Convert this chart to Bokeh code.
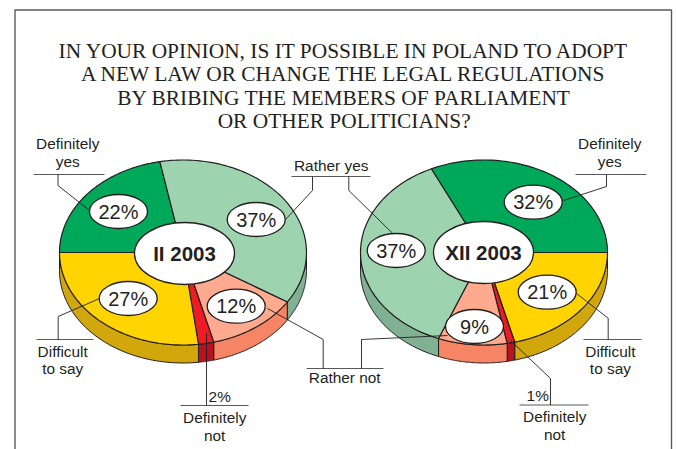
import numpy as np
from bokeh.plotting import figure
from bokeh.models import Range1d
from bokeh.embed import file_html
from bokeh.resources import INLINE
from bokeh.core.properties import value

title_lines = ["IN YOUR OPINION, IS IT POSSIBLE IN POLAND TO ADOPT",
               "A NEW LAW OR CHANGE THE LEGAL REGULATIONS",
               "BY BRIBING THE MEMBERS OF PARLIAMENT",
               "OR OTHER POLITICIANS?"]
categories_2 = ["Definitely yes", "Rather yes", "Rather not", "Definitely not", "Difficult to say"]
feb_2003 = [22, 37, 12, 2, 27]
categories_12 = ["Difficult to say", "Definitely not", "Rather not", "Rather yes", "Definitely yes"]
dec_2003 = [21, 1, 9, 37, 32]
top_colors = {"Definitely yes": "#00a85a", "Rather yes": "#9dd3ae", "Rather not": "#fdaa8f",
              "Definitely not": "#ed1c24", "Difficult to say": "#ffd400"}
side_colors = {"Definitely yes": "#008c4a", "Rather yes": "#80b193", "Rather not": "#f58565",
               "Definitely not": "#b8121f", "Difficult to say": "#d1a70b"}

W, H = 676, 449
INK = "#231f20"
GREY = "#58595b"
p = figure(width=W, height=H, output_backend="svg", toolbar_location=None,
           x_range=Range1d(0, W), y_range=Range1d(H, 0),
           min_border=0, x_axis_type="linear")
p.axis.visible = False
p.grid.visible = False
p.outline_line_color = None
p.background_fill_color = "white"

RX, RY, DEPTH = 123.5, 92.5, 18


def pie(cx, cy, cats, vals, start):
    a = start
    slices = []
    for c, v in zip(cats, vals):
        b = a - v * 3.6
        slices.append((c, a, b))
        a = b
    # side walls (only the front half is visible)
    for c, a0, b0 in slices:
        for k in (0, -360, 360):
            hi_a = min(a0 + k, 0)
            lo_b = max(b0 + k, -180)
            if hi_a > lo_b:
                t = np.radians(np.linspace(hi_a, lo_b, 60))
                xs = cx + RX * np.cos(t)
                ys = cy - RY * np.sin(t)
                p.patch(np.r_[xs, xs[::-1]], np.r_[ys, ys[::-1] + DEPTH],
                        fill_color=side_colors[c], line_color=INK, line_width=1)
    # top face
    for c, a0, b0 in slices:
        t = np.radians(np.linspace(a0, b0, 80))
        xs = np.r_[cx, cx + RX * np.cos(t)]
        ys = np.r_[cy, cy - RY * np.sin(t)]
        p.patch(xs, ys, fill_color=top_colors[c], line_color=INK, line_width=1.2)


pie(182.5, 252, categories_2, feb_2003, 180)
pie(483.5, 252, categories_12, dec_2003, 0)

# frame
p.line([14.5, 14.5, 671, 671], [449, 9.5, 9.5, 449], line_color=GREY, line_width=1.4)

# label rules
rules = [(33, 104, 174), (291, 370, 176), (306, 383, 368), (36, 93, 339), (180, 248, 405),
         (575, 646, 174), (583, 641, 339), (519, 588, 404.5)]
for x0, x1, y in rules:
    p.line([x0, x1], [y, y], line_color=GREY, line_width=1)

# leaders
leaders = [([57.5, 57.5, 89], [174, 185, 210]),
           ([312, 312, 285], [176, 190, 219]),
           ([322.7, 322.7, 267], [368, 339, 308]),
           ([361, 361, 447], [368, 339, 335]),
           ([57.7, 57.7, 99], [339, 316, 298]),
           ([206, 206], [405, 332]),
           ([606, 606, 563], [174, 186, 200]),
           ([348.3, 348.3, 392], [176, 190, 232.7]),
           ([607.7, 607.7, 576], [339, 317.7, 293]),
           ([550, 550, 510], [404.5, 378, 340])]
for xs, ys in leaders:
    p.line(xs, ys, line_color=INK, line_width=0.9)

# percentage ovals
ov_x = [118, 255.7, 235.7, 127.7, 532.7, 395.7, 546.7, 474]
ov_y = [211, 219, 305.7, 298, 201.7, 250, 291.7, 326]
ov_t = [f"{feb_2003[0]}%", f"{feb_2003[1]}%", f"{feb_2003[2]}%", f"{feb_2003[4]}%",
        f"{dec_2003[4]}%", f"{dec_2003[3]}%", f"{dec_2003[0]}%", f"{dec_2003[2]}%"]
p.ellipse(ov_x, ov_y, width=58, height=34, fill_color="white", line_color=INK, line_width=1.3)
p.text(ov_x, ov_y, text=ov_t, text_align="center", text_baseline="middle",
       text_font=value("Liberation Sans"), text_font_size="20px", text_color=INK)

# centre ovals
c_x = [184, 483]
c_y = [253, 252]
p.ellipse(c_x, c_y, width=[100, 100], height=[62, 62], fill_color="white", line_color=INK, line_width=1.3)
p.text(c_x, c_y, text=["II 2003", "XII 2003"], text_align="center", text_baseline="middle",
       text_font=value("Liberation Sans"), text_font_size="20.5px", text_font_style="bold", text_color=INK)

# labels
lab = [(68, 144, "Definitely"), (68, 162, "yes"), (331.5, 166, "Rather yes"), (345, 378, "Rather not"),
       (63, 352, "Difficult"), (63, 369, "to say"), (215, 418, "Definitely"), (215, 436, "not"),
       (610, 144, "Definitely"), (610, 162, "yes"), (610.7, 352, "Difficult"), (610.7, 369, "to say"),
       (555, 417, "Definitely"), (555, 435, "not"),
       (220, 397, f"{feb_2003[3]}%"), (538, 396, f"{dec_2003[1]}%")]
p.text([l[0] - 0.8 for l in lab], [l[1] - 1 for l in lab], text=[l[2] for l in lab],
       text_align="center", text_baseline="middle", text_font=value("Liberation Sans"),
       text_font_size="15.4px", text_color=INK)

# title
p.text([343.7] * 4, [50.3, 73.8, 97.3, 120.3], text=title_lines, text_align="center", text_baseline="middle",
       text_font=value("Liberation Serif"), text_font_size="21.4px", text_color=INK)

open("out.html", "w").write(file_html(p, INLINE))
